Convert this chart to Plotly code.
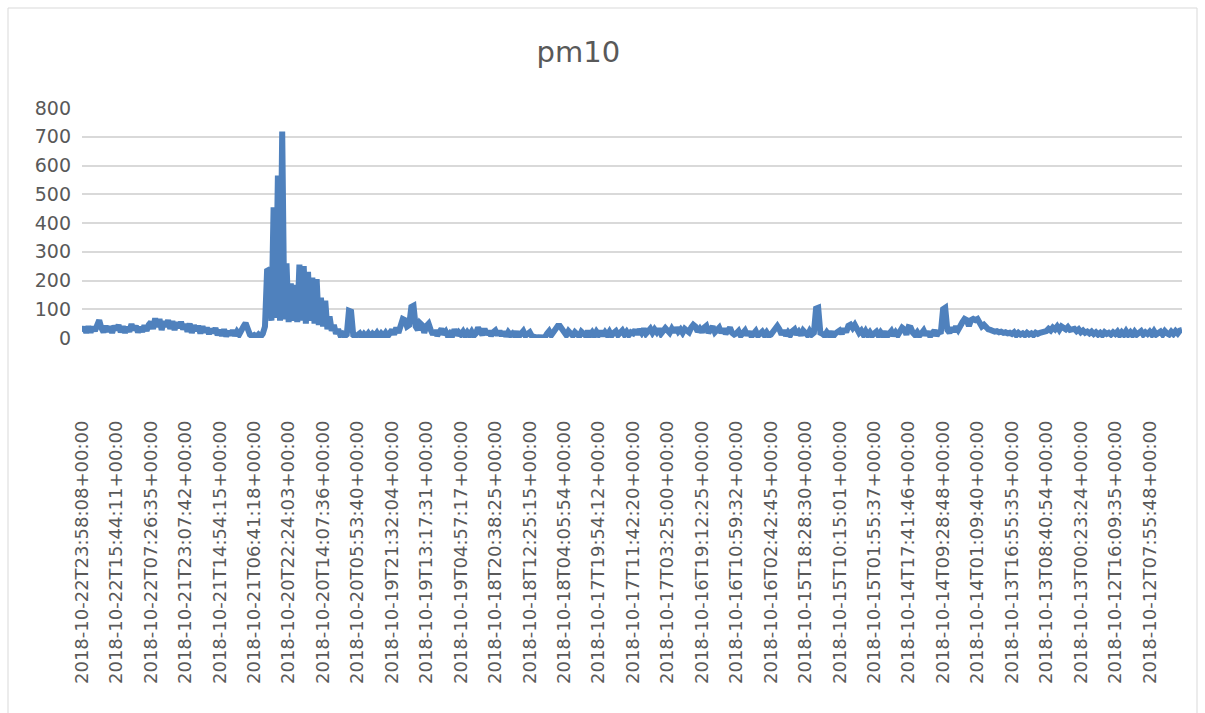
import plotly.graph_objects as go

title_text = "pm10"

tick_labels = [
    "2018-10-22T23:58:08+00:00", "2018-10-22T15:44:11+00:00", "2018-10-22T07:26:35+00:00",
    "2018-10-21T23:07:42+00:00", "2018-10-21T14:54:15+00:00", "2018-10-21T06:41:18+00:00",
    "2018-10-20T22:24:03+00:00", "2018-10-20T14:07:36+00:00", "2018-10-20T05:53:40+00:00",
    "2018-10-19T21:32:04+00:00", "2018-10-19T13:17:31+00:00", "2018-10-19T04:57:17+00:00",
    "2018-10-18T20:38:25+00:00", "2018-10-18T12:25:15+00:00", "2018-10-18T04:05:54+00:00",
    "2018-10-17T19:54:12+00:00", "2018-10-17T11:42:20+00:00", "2018-10-17T03:25:00+00:00",
    "2018-10-16T19:12:25+00:00", "2018-10-16T10:59:32+00:00", "2018-10-16T02:42:45+00:00",
    "2018-10-15T18:28:30+00:00", "2018-10-15T10:15:01+00:00", "2018-10-15T01:55:37+00:00",
    "2018-10-14T17:41:46+00:00", "2018-10-14T09:28:48+00:00", "2018-10-14T01:09:40+00:00",
    "2018-10-13T16:55:35+00:00", "2018-10-13T08:40:54+00:00", "2018-10-13T00:23:24+00:00",
    "2018-10-12T16:09:35+00:00", "2018-10-12T07:55:48+00:00",
]

# pm10 readings, 16 readings per labelled interval
pm10 = [
    22, 38, 18, 40, 20, 38, 25, 48, 62, 35, 20, 42, 22, 40, 18, 42,
    28, 45, 20, 40, 18, 38, 22, 48, 28, 42, 20, 38, 22, 44, 25, 46,
    55, 32, 68, 38, 66, 28, 58, 40, 62, 32, 58, 28, 55, 35, 56, 30,
    48, 22, 50, 18, 44, 25, 42, 16, 40, 20, 36, 14, 32, 18, 34, 10,
    28, 8, 30, 6, 24, 10, 26, 8, 22, 12, 32, 40, 52, 30, 12, 6,
    10, 4, 12, 5, 15, 40, 240, 235, 60, 455, 70, 565, 60, 718, 65, 260,
    55, 190, 60, 185, 55, 255, 60, 250, 50, 230, 60, 210, 50, 205, 45, 140,
    40, 130, 30, 75, 25, 45, 15, 30, 10, 15, 6, 12, 95, 92, 10, 5,
    8, 16, 4, 14, 6, 16, 5, 15, 8, 18, 6, 16, 8, 18, 6, 22,
    28, 12, 36, 18, 55, 66, 62, 40, 45, 108, 112, 40, 28, 52, 45, 18,
    42, 50, 28, 12, 26, 8, 20, 32, 12, 22, 6, 16, 8, 30, 10, 20,
    12, 22, 8, 20, 10, 22, 8, 16, 36, 22, 10, 32, 12, 24, 8, 20,
    26, 10, 24, 8, 22, 6, 20, 10, 16, 8, 22, 6, 20, 24, 8, 16,
    20, 6, 3, 2, 3, 2, 3, 2, 15, 24, 10, 22, 28, 42, 42, 28,
    22, 10, 24, 12, 8, 20, 10, 6, 22, 12, 8, 24, 10, 20, 8, 22,
    12, 24, 8, 20, 10, 22, 8, 18, 24, 10, 20, 26, 12, 22, 10, 20,
    16, 28, 12, 30, 18, 32, 15, 28, 32, 18, 30, 20, 32, 15, 28, 34,
    26, 18, 32, 20, 36, 22, 30, 18, 32, 22, 20, 36, 46, 40, 22, 32,
    20, 36, 42, 18, 32, 40, 20, 30, 36, 18, 32, 15, 28, 36, 18, 12,
    16, 24, 8, 20, 26, 10, 22, 6, 20, 24, 8, 18, 22, 10, 20, 8,
    12, 22, 36, 42, 30, 12, 26, 8, 20, 10, 24, 30, 12, 22, 10, 26,
    18, 10, 24, 12, 18, 102, 105, 18, 14, 8, 20, 10, 22, 6, 16, 22,
    26, 15, 32, 20, 42, 46, 35, 46, 30, 18, 26, 12, 24, 10, 20, 8,
    16, 22, 8, 20, 10, 22, 6, 16, 24, 8, 20, 10, 26, 36, 30, 12,
    38, 36, 18, 10, 20, 8, 16, 26, 10, 22, 6, 16, 26, 8, 20, 22,
    100, 105, 28, 18, 36, 22, 40, 28, 46, 55, 66, 62, 42, 62, 66, 62,
    66, 55, 40, 46, 34, 30, 28, 24, 22, 24, 20, 22, 18, 20, 16, 18,
    14, 20, 10, 18, 12, 16, 10, 18, 12, 16, 10, 18, 14, 18, 20, 24,
    24, 32, 26, 36, 30, 40, 28, 40, 34, 30, 38, 28, 30, 32, 24, 30,
    20, 26, 18, 22, 16, 22, 14, 20, 12, 18, 10, 20, 14, 18, 12, 20,
    14, 22, 10, 20, 12, 24, 12, 20, 10, 22, 12, 20, 24, 12, 20, 14,
    22, 12, 24, 12, 20, 22, 12, 24, 16, 12, 22, 14, 24, 16, 26, 28,
]

per_label = len(pm10) // len(tick_labels)
x_idx = list(range(len(pm10)))
tick_pos = [i * per_label for i in range(len(tick_labels))]

FONT = "DejaVu Sans"
GRAY = "#595959"

fig = go.Figure()
fig.add_trace(go.Scatter(
    x=x_idx, y=pm10, mode="lines",
    line=dict(color="#4f81bd", width=6),
    showlegend=False, hoverinfo="y",
))

W, H = 1205, 713
L, R, T, B = 82, 23, 108, 375
pw, ph = W - L - R, H - T - B

def px(xp):
    return (xp - L) / pw

def py(yp):
    return (H - B - yp) / ph

fig.update_layout(
    width=W, height=H,
    margin=dict(l=L, r=R, t=T, b=B),
    paper_bgcolor="white", plot_bgcolor="white",
    title=dict(text=title_text, x=px(610), xanchor="center",
               y=1 - 52 / H, yanchor="middle",
               font=dict(family=FONT, size=29, color=GRAY)),
    xaxis=dict(
        range=[0, len(pm10) - 1],
        tickmode="array", tickvals=tick_pos, ticktext=tick_labels,
        tickangle=-90, showgrid=False, zeroline=False, showline=False,
        ticks="", ticklabelstandoff=78,
        tickfont=dict(family=FONT, size=18, color=GRAY),
    ),
    yaxis=dict(
        range=[0, 800], tickmode="linear", tick0=0, dtick=100,
        showgrid=True, gridcolor="#d9d9d9", gridwidth=1.5,
        zeroline=False, showline=False, ticks="",
        tickfont=dict(family=FONT, size=19, color=GRAY),
        ticklabelstandoff=10,
    ),
    shapes=[dict(type="rect", xref="paper", yref="paper",
                 x0=px(8), x1=px(1197), y0=py(725), y1=py(8),
                 line=dict(color="#d9d9d9", width=1), layer="below")],
)

fig.write_html("out.html",
               config={"displayModeBar": False},
               post_script="document.body.style.margin='0px';document.body.style.overflow='hidden';")
